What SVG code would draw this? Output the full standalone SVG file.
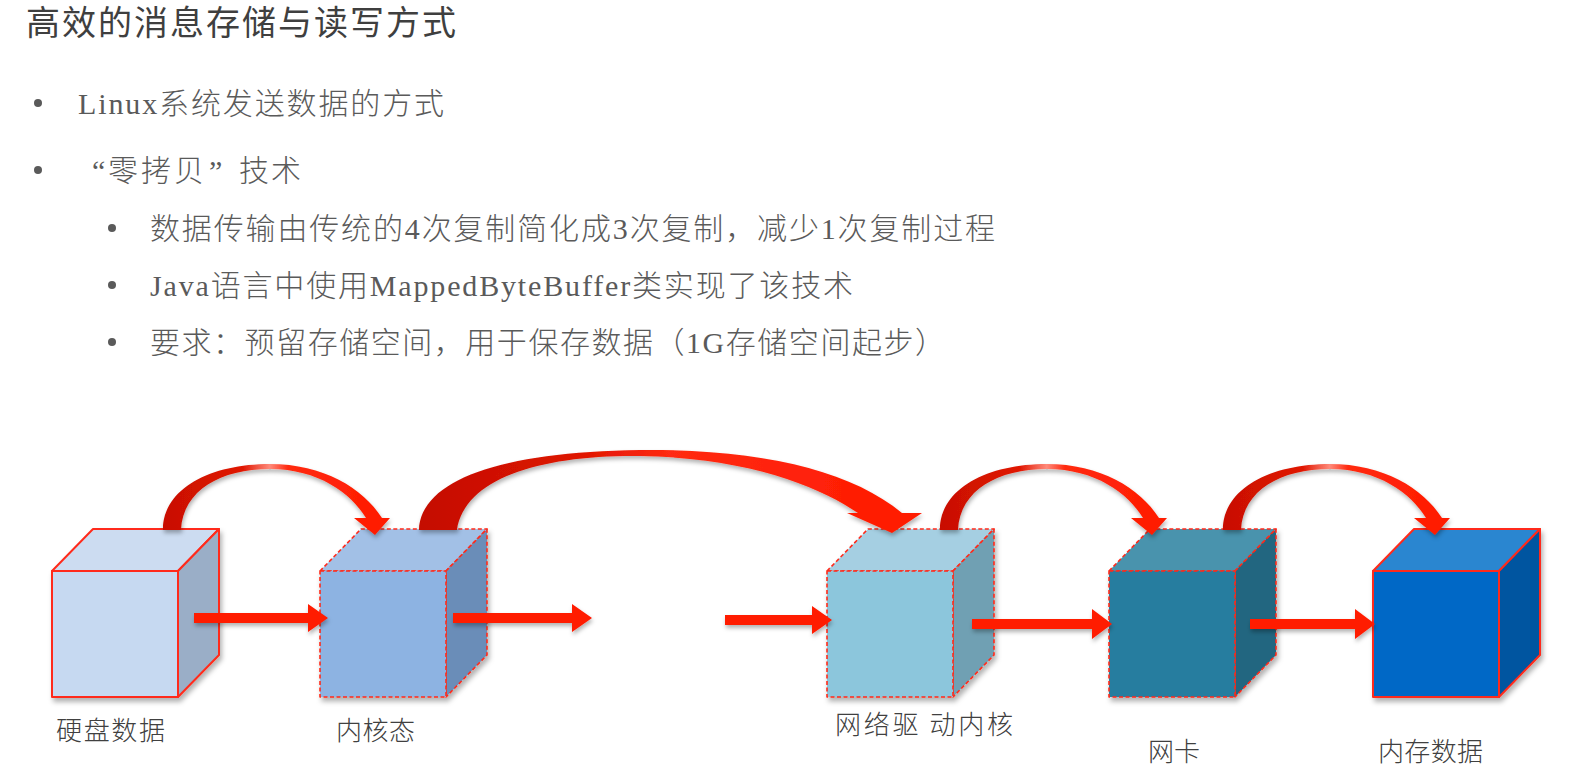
<svg xmlns="http://www.w3.org/2000/svg" width="1574" height="781" viewBox="0 0 1574 781">
<style>
  .title{font-family:'Noto Sans CJK SC','Noto Sans',sans-serif;font-size:34px;fill:#3f3f3f;}
  .body{font-family:'Liberation Serif','Noto Sans CJK SC',serif;font-size:30px;fill:#5a5a5a;font-weight:300;}
  .lbl{font-family:'Noto Sans CJK SC','Noto Sans',sans-serif;font-size:26px;fill:#404040;font-weight:300;}
  .dot{fill:#5a5a5a;}
  .solid{stroke:#ff2a1a;stroke-width:2;stroke-linejoin:round;}
  .dash{stroke:#ff2a1a;stroke-width:1.6;stroke-dasharray:4 2.5;stroke-linejoin:round;}
  .arrow{fill:#ff1a00;}
</style>
<defs>
  <filter id="sh" x="-20%" y="-20%" width="150%" height="150%">
    <feDropShadow dx="2" dy="4" stdDeviation="2.5" flood-color="#000" flood-opacity="0.3"/>
  </filter>
  <filter id="ash" x="-20%" y="-50%" width="150%" height="250%">
    <feDropShadow dx="1" dy="3" stdDeviation="2" flood-color="#000" flood-opacity="0.3"/>
  </filter>
  <linearGradient id="hopg" x1="0" y1="0" x2="1" y2="0">
    <stop offset="0" stop-color="#c81000"/>
    <stop offset="0.35" stop-color="#e01500"/>
    <stop offset="0.47" stop-color="#ff8a7a"/>
    <stop offset="0.55" stop-color="#ff2a10"/>
    <stop offset="1" stop-color="#ff1a00"/>
  </linearGradient>
  <linearGradient id="bigg" x1="0" y1="0" x2="1" y2="0">
    <stop offset="0" stop-color="#c40e00"/>
    <stop offset="0.3" stop-color="#dc1400"/>
    <stop offset="0.5" stop-color="#ff2a12"/>
    <stop offset="1" stop-color="#ff1a00"/>
  </linearGradient>
  <path id="hop" d="M0,0 C0,-42 48,-66 107,-66 C160,-66 200,-42 219,-12 L227,-12 L212,5 L191,-12 L203,-12 C188,-37 155,-61 107,-61 C58,-61 20,-40 18,0 Z"/>
</defs>

<rect width="1574" height="781" fill="#ffffff"/>

<text class="title" x="26" y="35" textLength="430" lengthAdjust="spacing">高效的消息存储与读写方式</text>

<g id="bullets">
  <circle class="dot" cx="38" cy="103" r="4"/>
  <text class="body" x="78" y="114" textLength="366" lengthAdjust="spacing">Linux系统发送数据的方式</text>
  <circle class="dot" cx="38" cy="170" r="4"/>
  <text class="body" y="181"><tspan x="92">“</tspan><tspan x="108" textLength="96" lengthAdjust="spacing">零拷贝</tspan><tspan x="209">”</tspan><tspan x="239" textLength="62" lengthAdjust="spacing">技术</tspan></text>
  <circle class="dot" cx="112" cy="228" r="4"/>
  <text class="body" x="150" y="239" textLength="845" lengthAdjust="spacing">数据传输由传统的4次复制简化成3次复制，减少1次复制过程</text>
  <circle class="dot" cx="112" cy="285" r="4"/>
  <text class="body" x="150" y="296" textLength="703" lengthAdjust="spacing">Java语言中使用MappedByteBuffer类实现了该技术</text>
  <circle class="dot" cx="112" cy="342" r="4"/>
  <text class="body" x="150" y="353" textLength="795" lengthAdjust="spacing">要求：预留存储空间，用于保存数据（1G存储空间起步）</text>
</g>

<g id="node-disk" filter="url(#sh)">
  <polygon class="solid" points="52,571 93,529 219,529 178,571" fill="#ccdcf1"/>
  <polygon class="solid" points="178,571 219,529 219,655 178,697" fill="#9aaec7"/>
  <rect class="solid" x="52" y="571" width="126" height="126" fill="#c6d9f1"/>
</g>
<g id="node-kernel" filter="url(#sh)">
  <polygon class="dash" points="320,571 361,529 487,529 446,571" fill="#a2c0e6"/>
  <polygon class="dash" points="446,571 487,529 487,655 446,697" fill="#6a8db8"/>
  <rect class="dash" x="320" y="571" width="126" height="126" fill="#8db3e2"/>
</g>
<g id="node-netdriver" filter="url(#sh)">
  <polygon class="dash" points="827,571 868,529 994,529 953,571" fill="#a5cfe2"/>
  <polygon class="dash" points="953,571 994,529 994,655 953,697" fill="#6fa0b3"/>
  <rect class="dash" x="827" y="571" width="126" height="126" fill="#8cc6dc"/>
</g>
<g id="node-nic" filter="url(#sh)">
  <polygon class="dash" points="1109,571 1150,529 1276,529 1235,571" fill="#4a93ad"/>
  <polygon class="dash" points="1235,571 1276,529 1276,655 1235,697" fill="#216680"/>
  <rect class="dash" x="1109" y="571" width="126" height="126" fill="#287d9f"/>
</g>
<g id="node-memory" filter="url(#sh)">
  <polygon class="solid" points="1373,571 1414,529 1540,529 1499,571" fill="#2a86d0"/>
  <polygon class="solid" points="1499,571 1540,529 1540,655 1499,697" fill="#0054a0"/>
  <rect class="solid" x="1373" y="571" width="126" height="126" fill="#0068c6"/>
</g>

<g id="labels">
  <text class="lbl" x="56" y="740" textLength="109" lengthAdjust="spacing">硬盘数据</text>
  <text class="lbl" x="336" y="740" textLength="79" lengthAdjust="spacing">内核态</text>
  <text class="lbl" x="835" y="734" textLength="178" lengthAdjust="spacing">网络驱 动内核</text>
  <text class="lbl" x="1148" y="761" textLength="52" lengthAdjust="spacing">网卡</text>
  <text class="lbl" x="1378" y="761" textLength="105" lengthAdjust="spacing">内存数据</text>
</g>

<g id="connectors">
  <g filter="url(#ash)">
    <path class="arrow" d="M194,613 H308 V604 L328,618 L308,632 V623 H194 Z"/>
    <path class="arrow" d="M453,613 H572 V604 L592,618 L572,632 V623 H453 Z"/>
    <path class="arrow" d="M725,615 H812 V606 L832,620 L812,634 V625 H725 Z"/>
    <path class="arrow" d="M972,619 H1092 V609 L1112,624 L1092,639 V629 H972 Z"/>
    <path class="arrow" d="M1250,619 H1355 V609 L1375,624 L1355,639 V629 H1250 Z"/>
  </g>
  <g filter="url(#ash)">
    <use href="#hop" x="163" y="530" fill="url(#hopg)"/>
    <use href="#hop" x="940" y="530" fill="url(#hopg)"/>
    <use href="#hop" x="1223" y="530" fill="url(#hopg)"/>
    <path fill="url(#bigg)" d="M419,530 C421,480 500,452 640,450 C760,449 850,470 902,513 L922,513 L892,533 L847,513 L858,513 C820,487 750,458 640,456 C540,455 465,478 457,530 Z"/>
  </g>
</g>
</svg>
